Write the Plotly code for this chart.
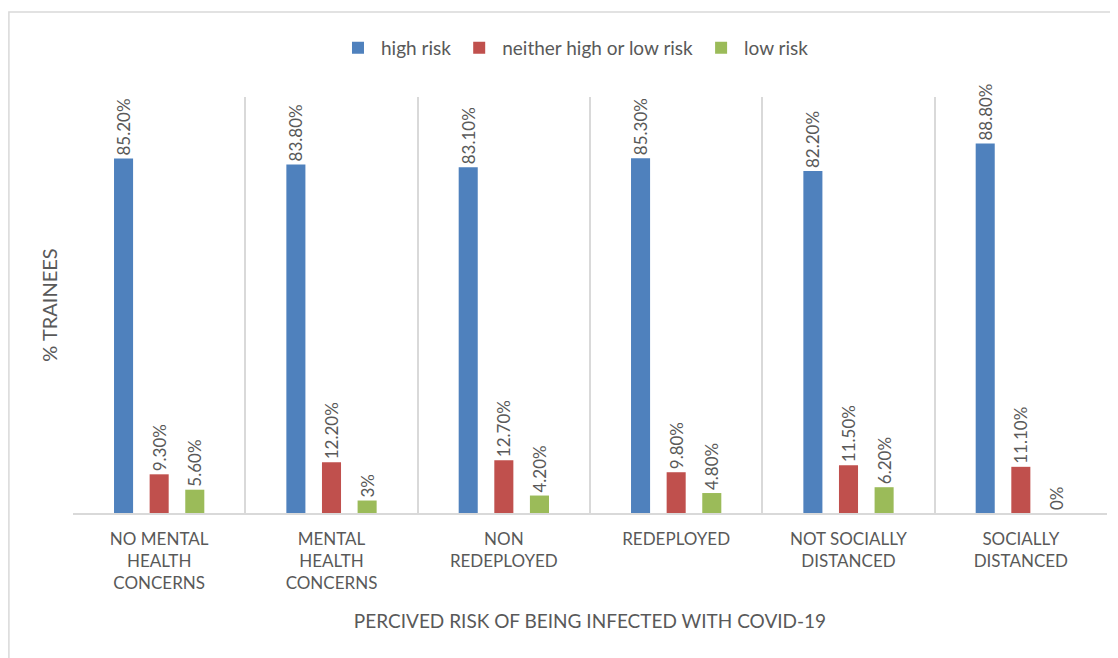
import plotly.graph_objects as go

categories = ["NO MENTAL<br>HEALTH<br>CONCERNS", "MENTAL<br>HEALTH<br>CONCERNS", "NON<br>REDEPLOYED",
              "REDEPLOYED", "NOT SOCIALLY<br>DISTANCED", "SOCIALLY<br>DISTANCED"]
high_risk = [85.2, 83.8, 83.1, 85.3, 82.2, 88.8]
neither = [9.3, 12.2, 12.7, 9.8, 11.5, 11.1]
low_risk = [5.6, 3.0, 4.2, 4.8, 6.2, 0.0]
high_labels = ["85.20%", "83.80%", "83.10%", "85.30%", "82.20%", "88.80%"]
neither_labels = ["9.30%", "12.20%", "12.70%", "9.80%", "11.50%", "11.10%"]
low_labels = ["5.60%", "3%", "4.20%", "4.80%", "6.20%", "0%"]

series = [
    ("high risk", high_risk, high_labels, "#4F81BD"),
    ("neither high or low risk", neither, neither_labels, "#C0504D"),
    ("low risk", low_risk, low_labels, "#9BBB59"),
]

FONT = "Lato, 'Open Sans', sans-serif"
GRAY = "#595959"

fig = go.Figure()
for name, vals, labels, color in series:
    fig.add_trace(go.Bar(
        name=name, x=categories, y=vals, text=labels,
        textposition="outside", textangle=-90, cliponaxis=False,
        constraintext="none",
        textfont=dict(family=FONT, size=17, color=GRAY),
        marker=dict(color=color, line=dict(width=0)),
    ))

fig.update_layout(
    width=1110, height=650,
    paper_bgcolor="white", plot_bgcolor="white",
    margin=dict(l=65, r=11, t=89, b=145, autoexpand=False),
    barmode="group", bargap=0.38, bargroupgap=0.465,
    font=dict(family=FONT, color=GRAY),
    legend=dict(orientation="h", x=0.485, xanchor="center", y=0.968, yref="container",
                yanchor="top", font=dict(size=19, color=GRAY), itemwidth=36,
                traceorder="normal"),
    xaxis=dict(type="category", tickson="boundaries", showgrid=True, gridcolor="#D9D9D9",
               gridwidth=1.5, showline=True, linecolor="#D9D9D9", linewidth=1.5,
               ticks="", tickfont=dict(size=17, color=GRAY), tickangle=0,
               ticklabelstandoff=10,
               title=dict(text="PERCIVED RISK OF BEING INFECTED WITH COVID-19",
                          font=dict(size=19, color=GRAY), standoff=22)),
    yaxis=dict(range=[0, 100], showticklabels=False, showgrid=False, zeroline=False,
               title=dict(text="% TRAINEES", font=dict(size=20, color=GRAY), standoff=9)),
    shapes=[dict(type="rect", xref="paper", yref="paper", x0=-0.062, x1=1.05, y0=-0.5, y1=1.2043,
                 line=dict(color="#D9D9D9", width=1.5))],
)

fig.write_html("out.html")
